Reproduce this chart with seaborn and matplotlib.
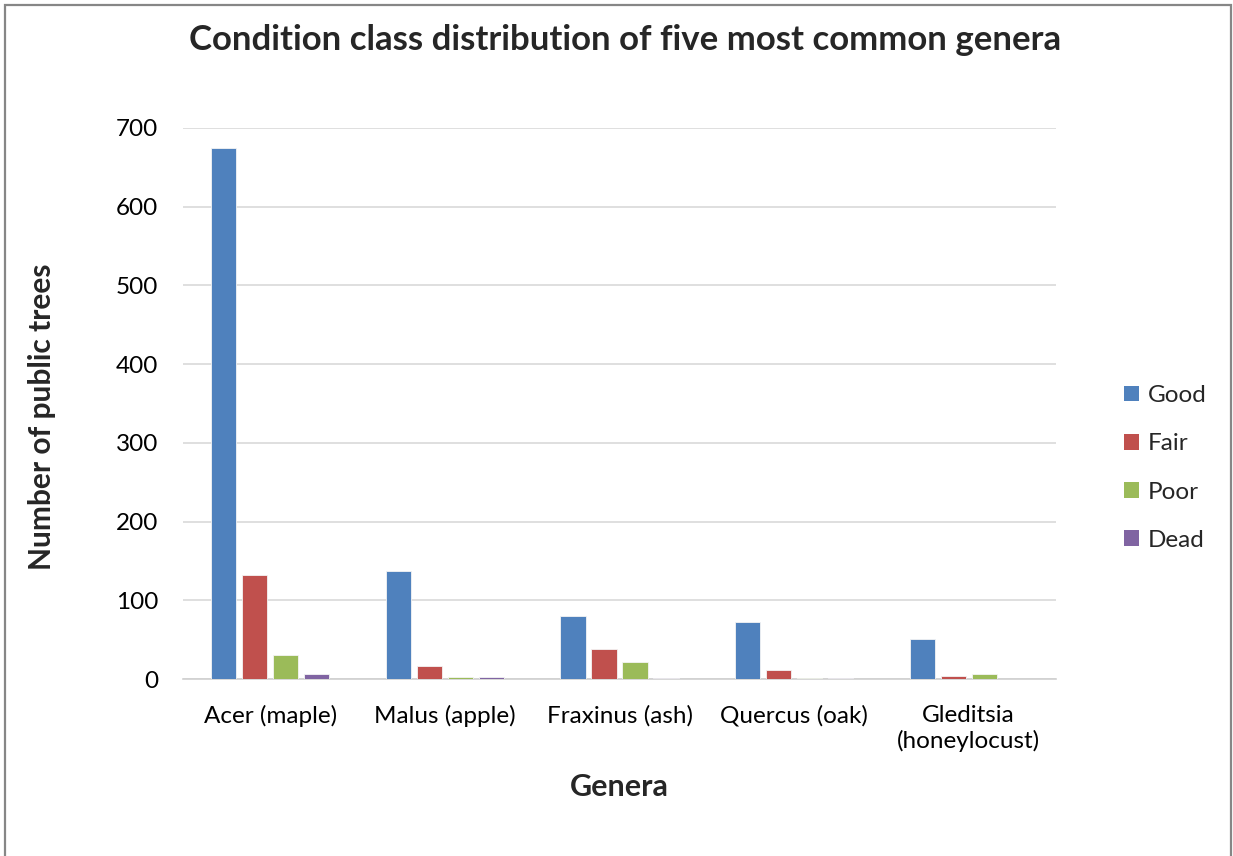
import matplotlib
matplotlib.use("Agg")
import matplotlib.pyplot as plt
from matplotlib.patches import Rectangle
import seaborn as sns
import pandas as pd

genera = ["Acer (maple)", "Malus (apple)", "Fraxinus (ash)", "Quercus (oak)", "Gleditsia\n(honeylocust)"]
conditions = ["Good", "Fair", "Poor", "Dead"]
good = [675, 137, 80, 73, 51]
fair = [132, 17, 38, 11, 4]
poor = [30, 2, 21, 1, 6]
dead = [6, 2, 1, 1, 0]
colors = ["#4F81BD", "#C0504D", "#9BBB59", "#8064A2"]
y_ticks = [0, 100, 200, 300, 400, 500, 600, 700]

rows = []
for cond, vals in zip(conditions, [good, fair, poor, dead]):
    for g, v in zip(genera, vals):
        rows.append({"Genus": g, "Condition": cond, "Count": v})
df = pd.DataFrame(rows)

sns.set_theme(style="white")
plt.rcParams["font.family"] = ["Lato", "DejaVu Sans"]

fig = plt.figure(figsize=(12.33, 8.56), dpi=100)
ax = fig.add_axes([183 / 1233, 1 - 679 / 856, (1056 - 183) / 1233, (679 - 128) / 856])

sns.barplot(data=df, x="Genus", y="Count", hue="Condition", order=genera,
            hue_order=conditions, palette=colors, saturation=1, width=0.71, gap=0.19,
            edgecolor="#f4f4f4", linewidth=0.6, ax=ax, zorder=3)

ax.set_ylim(0, 700)
ax.set_yticks(y_ticks)
ax.set_yticklabels([str(t) for t in y_ticks])
ax.yaxis.grid(True, color="#d9d9d9", linewidth=1.2, zorder=0)
ax.set_axisbelow(True)
for side in ["top", "right", "left"]:
    ax.spines[side].set_visible(False)
ax.spines["bottom"].set_color("#d0d0d0")
ax.spines["bottom"].set_linewidth(1.2)
ax.tick_params(axis="both", length=0, labelsize=17.5, colors="black")
ax.tick_params(axis="x", pad=19)
ax.tick_params(axis="y", pad=18)
for lbl in ax.get_xticklabels():
    lbl.set_linespacing(1.22)

ax.set_xlabel("Genera", fontsize=22, fontweight="bold", labelpad=14.5)
ax.set_ylabel("Number of public trees", fontsize=21.5, fontweight="bold", va="center")
ax.yaxis.set_label_coords(-(183 - 42) / 873, (679 - 417) / 551)

fig.suptitle("Condition class distribution of five most common genera",
             x=625 / 1233, y=1 - 40 / 856, va="center", fontsize=25, fontweight="bold")

leg = ax.legend(loc="center left", bbox_to_anchor=(1.053, 0.383), frameon=False,
                fontsize=17.5, handlelength=0.62, handleheight=0.62,
                handletextpad=0.35, labelspacing=1.12)
for h in leg.legend_handles:
    h.set_edgecolor("none")

# grey frame around the chart area
fig.patches.append(Rectangle((5 / 1233, -0.05), (1231 - 5) / 1233, 1.05 - 5 / 856,
                             transform=fig.transFigure, fill=False,
                             edgecolor="#868686", linewidth=1.6))

fig.savefig("out.png", dpi=100, facecolor="white")
